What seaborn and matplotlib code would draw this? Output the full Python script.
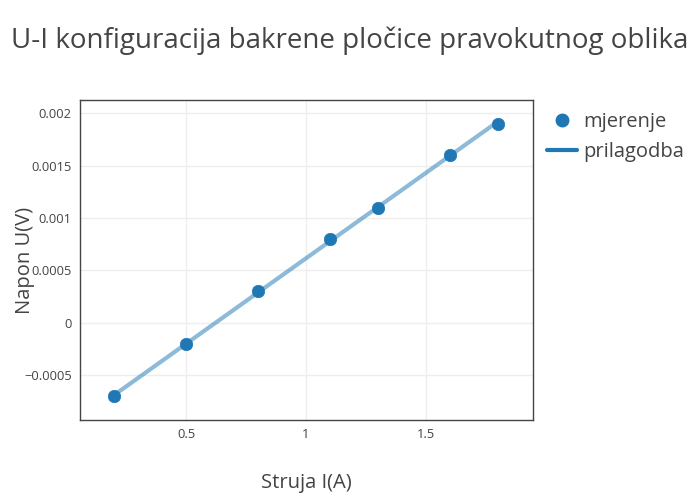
import numpy as np
import pandas as pd
import matplotlib
matplotlib.use("Agg")
import matplotlib.pyplot as plt
from matplotlib.lines import Line2D
from matplotlib.ticker import FuncFormatter
import seaborn as sns

# measured values
struja = [0.2, 0.5, 0.8, 1.1, 1.3, 1.6, 1.8]
napon = [-0.0007, -0.0002, 0.0003, 0.0008, 0.0011, 0.0016, 0.0019]

data = pd.DataFrame({'I': struja, 'U': napon})

# linear fit
k, b = np.polyfit(data['I'], data['U'], 1)
fit = pd.DataFrame({'I': data['I'], 'U': k * data['I'] + b})

sns.set_style('white')
plt.rcParams['font.family'] = ['Open Sans', 'DejaVu Sans']

fig = plt.figure(figsize=(7, 5), dpi=100)
ax = fig.add_axes([0.1143, 0.16, 0.647, 0.64])

sns.lineplot(data=fit, x='I', y='U', ax=ax, color='#1f77b4', alpha=0.5,
             linewidth=3, zorder=2)
sns.scatterplot(data=data, x='I', y='U', ax=ax, color='#1f77b4', s=80,
                edgecolor='#1f77b4', linewidth=0.5, zorder=3)

ax.set_xlim(0.058, 1.946)
ax.set_ylim(-0.000924, 0.002124)
ax.set_xticks([0.5, 1, 1.5])
ax.set_yticks([-0.0005, 0, 0.0005, 0.001, 0.0015, 0.002])
fmt = FuncFormatter(lambda v, p: f"{v:g}".replace('-', '\u2212'))
ax.xaxis.set_major_formatter(fmt)
ax.yaxis.set_major_formatter(fmt)
ax.grid(True, color='#eeeeee', linewidth=1)
ax.tick_params(axis='both', labelsize=9.3, colors='#444444', length=0, pad=6)
for s in ax.spines.values():
    s.set_color('#444444')
    s.set_linewidth(1)

ax.set_xlabel('')
ax.set_ylabel('')
fig.text(0.437, 0.034, 'Struja I(A)', ha='center', va='center',
         fontsize=14.5, color='#444444')
fig.text(0.036, 0.48, 'Napon U(V)', ha='center', va='center', rotation=90,
         fontsize=14.5, color='#444444')
fig.text(0.5, 0.918, 'U-I konfiguracija bakrene pločice pravokutnog oblika',
         ha='center', va='center', fontsize=20, color='#444444')

handles = [
    Line2D([], [], marker='o', linestyle='none', color='#1f77b4', markersize=9),
    Line2D([], [], color='#1f77b4', linewidth=3),
]
leg = fig.legend(handles, ['mjerenje', 'prilagodba'], loc='upper left',
                 bbox_to_anchor=(0.781, 0.775), frameon=False, fontsize=14.5,
                 handlelength=1.5, handletextpad=0.3, labelspacing=0.45,
                 borderaxespad=0, borderpad=0)
for t in leg.get_texts():
    t.set_color('#444444')

fig.savefig('out.png', dpi=100)
